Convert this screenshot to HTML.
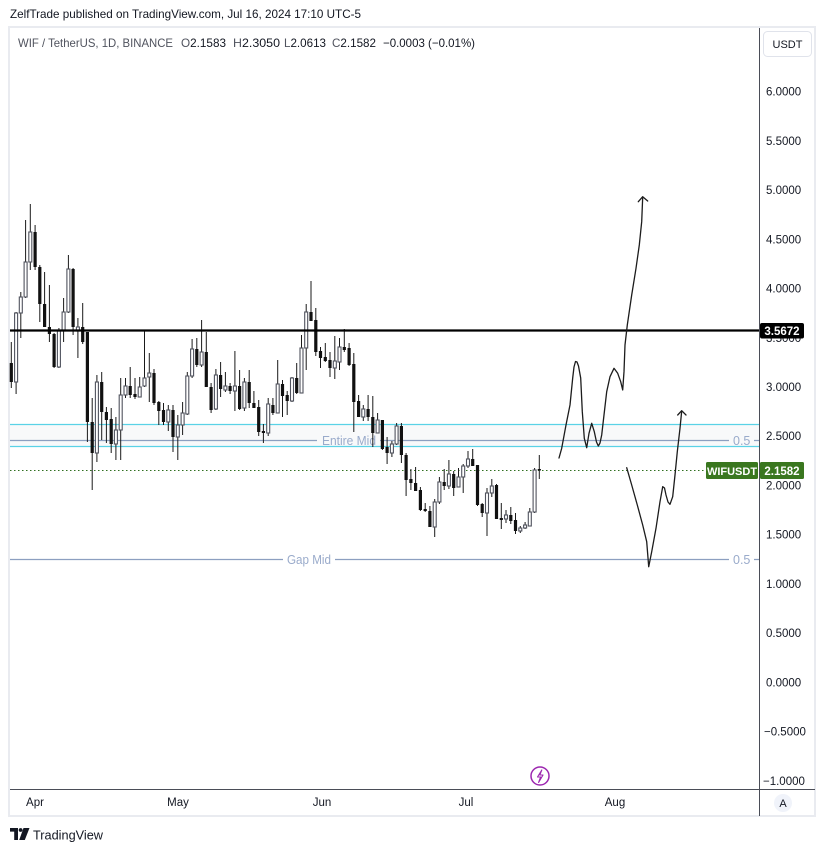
<!DOCTYPE html>
<html><head><meta charset="utf-8"><style>
html,body{margin:0;padding:0;background:#fff;width:825px;height:852px;overflow:hidden}
svg{display:block;font-family:"Liberation Sans",Arial,sans-serif}
</style></head><body>
<svg width="825" height="852" viewBox="0 0 825 852" xmlns="http://www.w3.org/2000/svg">
<rect x="0" y="0" width="825" height="852" fill="#fff"/>
<!-- header -->
<text x="10" y="18" font-size="12" fill="#131722" textLength="351" lengthAdjust="spacingAndGlyphs">ZelfTrade published on TradingView.com, Jul 16, 2024 17:10 UTC-5</text>
<!-- frame -->
<rect x="9" y="27" width="806" height="789" fill="#fff" stroke="#e9ebf0" stroke-width="2"/>
<!-- legend -->
<g font-size="12">
<text x="18" y="47" fill="#50535e" textLength="155" lengthAdjust="spacingAndGlyphs">WIF / TetherUS, 1D, BINANCE</text>
<text x="181" y="47" fill="#50535e" textLength="45" lengthAdjust="spacingAndGlyphs">O<tspan fill="#131722">2.1583</tspan></text>
<text x="233" y="47" fill="#50535e" textLength="47" lengthAdjust="spacingAndGlyphs">H<tspan fill="#131722">2.3050</tspan></text>
<text x="284" y="47" fill="#50535e" textLength="42" lengthAdjust="spacingAndGlyphs">L<tspan fill="#131722">2.0613</tspan></text>
<text x="332" y="47" fill="#50535e" textLength="44" lengthAdjust="spacingAndGlyphs">C<tspan fill="#131722">2.1582</tspan></text>
<text x="383" y="47" fill="#131722" textLength="92" lengthAdjust="spacingAndGlyphs">−0.0003 (−0.01%)</text>
</g>

<!-- Entire Mid band -->
<rect x="10" y="424.5" width="749" height="22" fill="#f8f9fa"/>
<line x1="10" y1="424.5" x2="759" y2="424.5" stroke="#5ad2e6" stroke-width="1.2"/>
<line x1="10" y1="446.5" x2="759" y2="446.5" stroke="#5ad2e6" stroke-width="1.2"/>
<path d="M10 440.5H317M380 440.5H729M754 440.5H759" stroke="#8c9fc0" stroke-width="1.2" fill="none"/>
<text x="322" y="445" font-size="12.5" fill="#9aabcb" textLength="54" lengthAdjust="spacingAndGlyphs">Entire Mid</text>
<text x="733" y="445" font-size="12.5" fill="#9aabcb">0.5</text>
<!-- Gap Mid -->
<path d="M10 559.5H283M335 559.5H729M754 559.5H759" stroke="#8c9fc0" stroke-width="1.2" fill="none"/>
<text x="287" y="564" font-size="12.5" fill="#9aabcb" textLength="44" lengthAdjust="spacingAndGlyphs">Gap Mid</text>
<text x="733" y="564" font-size="12.5" fill="#9aabcb">0.5</text>
<!-- last price dotted line -->
<line x1="10" y1="470.5" x2="704" y2="470.5" stroke="#2f6f1f" stroke-width="1" stroke-dasharray="1.5 2.5"/>

<!-- wicks -->
<path fill="none" stroke="#1a1a1a" stroke-width="1" d="M11.3 342V388M16.1 312V394M20.8 292V338M25.6 220V298M30.3 204V270M35.1 225V270M39.8 265V322M44.6 272V327M49.4 285V342M54.1 333V368M58.9 328V368M63.6 298V342M68.4 255V313M73.1 268V335M77.9 318V358M82.7 303V344M87.4 332V442M92.2 398V490M96.9 375V462M101.7 372V440M106.4 407V443M111.2 408V453M115.9 417V460M120.7 378V460M125.5 378V398M130.2 367V398M135.0 378V399M139.7 377V397M144.5 331V387M149.3 353V402M154.0 369V405M158.8 401V425M163.5 403V425M168.3 405V431M173.0 405V452M177.8 415V460M182.6 402V435M187.3 372V415M192.1 339V378M196.8 338V367M201.6 320V367M206.3 332V387M211.1 383V413M215.9 369V410M220.6 362V397M225.4 372V392M230.1 383V394M234.9 351V411M239.6 370V410M244.4 378V411M249.2 370V408M253.9 391V408M258.7 400V436M263.4 424V443M268.2 398V436M272.9 398V415M277.7 360V413M282.5 380V417M287.2 391V415M292.0 377V402M296.7 363V394M301.5 335V393M306.2 304V370M311.0 281V321M315.8 308V356M320.5 347V368M325.3 343V362M330.0 352V377M334.8 336V379M339.5 338V370M344.3 329V352M349.1 343V366M353.8 353V432M358.6 395V417M363.3 405V421M368.1 395V421M372.8 396V447M377.6 413V433M382.4 420V450M387.1 437V464M391.9 441V457M396.6 423V445M401.4 423V463M406.1 453V496M410.9 469V490M415.6 467V491M420.4 487V511M425.2 503V512M429.9 506V527M434.7 499V537M439.4 477V504M444.2 469V490M448.9 460V489M453.7 471V496M458.5 468V487M463.2 464V493M468.0 451V468M472.7 449V466M477.5 465V506M482.2 503V517M487.0 488V536M491.8 479V497M496.5 484V519M501.3 503V529M506.0 510V523M510.8 507V524M515.5 513V534M520.3 526V533M525.1 522V529M529.8 508V526M534.6 468V513M539.3 455V479"/>

<!-- down bodies -->
<g fill="#111">
<rect x="9.7" y="363" width="3.2" height="19"/>
<rect x="33.5" y="232" width="3.2" height="35"/>
<rect x="38.2" y="267" width="3.2" height="37"/>
<rect x="43.0" y="304" width="3.2" height="23"/>
<rect x="47.8" y="327" width="3.2" height="7"/>
<rect x="52.5" y="334" width="3.2" height="33"/>
<rect x="71.5" y="269" width="3.2" height="58"/>
<rect x="81.1" y="327" width="3.2" height="15"/>
<rect x="85.8" y="332" width="3.2" height="90"/>
<rect x="90.6" y="422" width="3.2" height="31"/>
<rect x="100.1" y="382" width="3.2" height="30"/>
<rect x="104.8" y="412" width="3.2" height="8"/>
<rect x="109.6" y="419" width="3.2" height="25"/>
<rect x="128.6" y="386" width="3.2" height="9"/>
<rect x="133.4" y="394" width="3.2" height="3"/>
<rect x="152.4" y="373" width="3.2" height="30"/>
<rect x="157.2" y="402" width="3.2" height="9"/>
<rect x="161.9" y="410" width="3.2" height="12"/>
<rect x="171.4" y="410" width="3.2" height="27"/>
<rect x="195.2" y="349" width="3.2" height="16"/>
<rect x="204.7" y="352" width="3.2" height="35"/>
<rect x="209.5" y="387" width="3.2" height="23"/>
<rect x="219.0" y="375" width="3.2" height="14"/>
<rect x="228.5" y="386" width="3.2" height="5"/>
<rect x="238.0" y="386" width="3.2" height="23"/>
<rect x="247.6" y="382" width="3.2" height="21"/>
<rect x="252.3" y="403" width="3.2" height="5"/>
<rect x="257.1" y="407" width="3.2" height="25"/>
<rect x="261.8" y="431" width="3.2" height="2"/>
<rect x="271.3" y="405" width="3.2" height="8"/>
<rect x="280.9" y="384" width="3.2" height="12"/>
<rect x="285.6" y="395" width="3.2" height="6"/>
<rect x="295.1" y="378" width="3.2" height="15"/>
<rect x="309.4" y="312" width="3.2" height="9"/>
<rect x="314.2" y="320" width="3.2" height="32"/>
<rect x="318.9" y="351" width="3.2" height="7"/>
<rect x="323.7" y="357" width="3.2" height="4"/>
<rect x="328.4" y="360" width="3.2" height="8"/>
<rect x="342.7" y="347" width="3.2" height="3"/>
<rect x="347.5" y="348" width="3.2" height="17"/>
<rect x="352.2" y="364" width="3.2" height="38"/>
<rect x="357.0" y="401" width="3.2" height="16"/>
<rect x="366.5" y="409" width="3.2" height="8"/>
<rect x="371.2" y="417" width="3.2" height="16"/>
<rect x="380.8" y="420" width="3.2" height="29"/>
<rect x="385.5" y="447" width="3.2" height="6"/>
<rect x="399.8" y="426" width="3.2" height="29"/>
<rect x="404.5" y="455" width="3.2" height="25"/>
<rect x="409.3" y="479" width="3.2" height="4"/>
<rect x="414.0" y="483" width="3.2" height="8"/>
<rect x="418.8" y="490" width="3.2" height="20"/>
<rect x="423.6" y="509" width="3.2" height="2"/>
<rect x="428.3" y="511" width="3.2" height="16"/>
<rect x="442.6" y="482" width="3.2" height="4"/>
<rect x="452.1" y="474" width="3.2" height="14"/>
<rect x="471.1" y="459" width="3.2" height="7"/>
<rect x="475.9" y="465" width="3.2" height="40"/>
<rect x="480.6" y="504" width="3.2" height="9"/>
<rect x="494.9" y="485" width="3.2" height="34"/>
<rect x="499.7" y="518" width="3.2" height="2"/>
<rect x="509.2" y="515" width="3.2" height="6"/>
<rect x="513.9" y="520" width="3.2" height="11"/>
<rect x="537.7" y="469" width="3.2" height="1.5"/>
</g>
<!-- up bodies (hollow) -->
<g fill="#fff" stroke="#50535e" stroke-width="1.1">
<rect x="14.6" y="313" width="3" height="69"/>
<rect x="19.3" y="297" width="3" height="16"/>
<rect x="24.1" y="262" width="3" height="35"/>
<rect x="28.8" y="232" width="3" height="30"/>
<rect x="57.4" y="331" width="3" height="36"/>
<rect x="62.1" y="312" width="3" height="19"/>
<rect x="66.9" y="269" width="3" height="43"/>
<rect x="76.4" y="327" width="3" height="4"/>
<rect x="95.4" y="382" width="3" height="71"/>
<rect x="114.4" y="430" width="3" height="14"/>
<rect x="119.2" y="395" width="3" height="35"/>
<rect x="124.0" y="386" width="3" height="9"/>
<rect x="138.2" y="387" width="3" height="10"/>
<rect x="143.0" y="378" width="3" height="8"/>
<rect x="147.8" y="373" width="3" height="4"/>
<rect x="166.8" y="410" width="3" height="12"/>
<rect x="176.3" y="425" width="3" height="12"/>
<rect x="181.1" y="413" width="3" height="12"/>
<rect x="185.8" y="376" width="3" height="38"/>
<rect x="190.6" y="349" width="3" height="27"/>
<rect x="200.1" y="352" width="3" height="13"/>
<rect x="214.4" y="375" width="3" height="34"/>
<rect x="223.9" y="386" width="3" height="4"/>
<rect x="233.4" y="386" width="3" height="5"/>
<rect x="242.9" y="382" width="3" height="26"/>
<rect x="266.7" y="404" width="3" height="29"/>
<rect x="276.2" y="384" width="3" height="29"/>
<rect x="290.5" y="378" width="3" height="23"/>
<rect x="300.0" y="348" width="3" height="45"/>
<rect x="304.7" y="312" width="3" height="36"/>
<rect x="333.3" y="361" width="3" height="7"/>
<rect x="338.0" y="347" width="3" height="15"/>
<rect x="361.8" y="409" width="3" height="8"/>
<rect x="376.1" y="420" width="3" height="13"/>
<rect x="390.4" y="444" width="3" height="9"/>
<rect x="395.1" y="426" width="3" height="18"/>
<rect x="433.2" y="502" width="3" height="25"/>
<rect x="437.9" y="482" width="3" height="20"/>
<rect x="447.4" y="474" width="3" height="12"/>
<rect x="457.0" y="477" width="3" height="10"/>
<rect x="461.7" y="466" width="3" height="11"/>
<rect x="466.5" y="459" width="3" height="7"/>
<rect x="485.5" y="493" width="3" height="20"/>
<rect x="490.3" y="486" width="3" height="7"/>
<rect x="504.5" y="515" width="3" height="4"/>
<rect x="518.8" y="528" width="3" height="3"/>
<rect x="523.6" y="525" width="3" height="3"/>
<rect x="528.3" y="512" width="3" height="14"/>
<rect x="533.1" y="470" width="3" height="42"/>
</g>

<!-- black horizontal level -->
<line x1="10" y1="330.5" x2="759" y2="330.5" stroke="#000" stroke-width="2.2"/>

<!-- hand drawn projections -->
<g fill="none" stroke="#1c1c1c" stroke-width="1.3" stroke-linejoin="round" stroke-linecap="round">
<polyline points="559,458 561.7,448.3 566,425 570,405 572.7,378 574,367 575.5,361.5 577,362 578.5,366 580.7,378 582.3,411.7 584.3,438.3 586.7,447.7 589,433.3 591.7,423.3 594.3,431.7 596.5,442 598.3,446 600,443 601.7,435 604,415 606.7,391.7 610,376.7 614,368.3 617.7,373.3 620.7,381.7 622.7,390 624,371.7 625,345 627.3,325 631.7,295 636,268.3 639.3,245 641.7,221.7 642.7,197"/>
<path d="M638.3 201.7L642.7 196.7L647.7 201"/>
<polyline points="626.7,467.7 631.7,485 637.3,505 642.7,525 646.7,541.7 648.7,566.7 651.7,551.7 656,528.3 660,501.7 662.7,486.7 664.5,488 666,495 668,502 670,504.3 672.7,496.7 675,475 677.3,451.7 680,428.3 681.7,411"/>
<path d="M677.7 415L681.7 410.7L686 415"/>
</g>

<!-- lightning icon -->
<circle cx="540" cy="776" r="9" fill="#fff" stroke="#9c27b0" stroke-width="1.5"/>
<path d="M541.8 770L537.5 777H540.6L538.6 782.5L543 775H539.8Z" fill="none" stroke="#9c27b0" stroke-width="1.1" stroke-linejoin="round"/>

<!-- axes separators -->
<line x1="759.5" y1="28" x2="759.5" y2="816" stroke="#4a4d57" stroke-width="1"/>
<line x1="10" y1="789.5" x2="815" y2="789.5" stroke="#4a4d57" stroke-width="1"/>

<!-- USDT button -->
<rect x="763.5" y="31.5" width="48" height="25" rx="4" fill="#fff" stroke="#e0e3eb"/>
<text x="787.5" y="48" font-size="11" fill="#131722" text-anchor="middle">USDT</text>

<!-- price axis labels -->
<g font-size="11.5" fill="#131722">
<text x="766" y="95.6">6.0000</text>
<text x="766" y="145">5.5000</text>
<text x="766" y="194.2">5.0000</text>
<text x="766" y="243.4">4.5000</text>
<text x="766" y="292.6">4.0000</text>
<text x="766" y="341.8">3.5000</text>
<text x="766" y="391">3.0000</text>
<text x="766" y="440.2">2.5000</text>
<text x="766" y="489.4">2.0000</text>
<text x="766" y="538.6">1.5000</text>
<text x="766" y="587.9">1.0000</text>
<text x="766" y="637.1">0.5000</text>
<text x="766" y="686.3">0.0000</text>
<text x="764" y="735.5">−0.5000</text>
<text x="763" y="784.8">−1.0000</text>
</g>
<!-- level price box -->
<rect x="760" y="323" width="44" height="15.5" rx="2" fill="#000"/>
<text x="782" y="334.8" font-size="11.5" font-weight="bold" fill="#fff" text-anchor="middle">3.5672</text>
<!-- last price labels -->
<rect x="706" y="462" width="52" height="17" rx="1.5" fill="#3a771f"/>
<text x="732" y="474.8" font-size="11" font-weight="bold" fill="#fff" text-anchor="middle">WIFUSDT</text>
<rect x="760" y="462" width="44" height="17" rx="1.5" fill="#3a771f"/>
<text x="782" y="474.8" font-size="11.5" font-weight="bold" fill="#fff" text-anchor="middle">2.1582</text>

<!-- time axis -->
<g font-size="11.5" fill="#131722" text-anchor="middle">
<text x="35" y="806">Apr</text>
<text x="178" y="806">May</text>
<text x="322" y="806">Jun</text>
<text x="466" y="806">Jul</text>
<text x="615" y="806">Aug</text>
</g>
<circle cx="783" cy="803" r="9" fill="#f0f3fa"/>
<text x="783" y="807" font-size="11" fill="#131722" text-anchor="middle">A</text>

<!-- TradingView logo -->
<g fill="#131722">
<path d="M10 828H18V840H14.2V831.6H10Z"/>
<circle cx="20.6" cy="830" r="1.9"/>
<path d="M23.5 828H29.5L24.8 840H19.2Z"/>
</g>
<text x="33" y="839.5" font-size="13" fill="#131722" textLength="70" lengthAdjust="spacingAndGlyphs">TradingView</text>
</svg>
</body></html>
